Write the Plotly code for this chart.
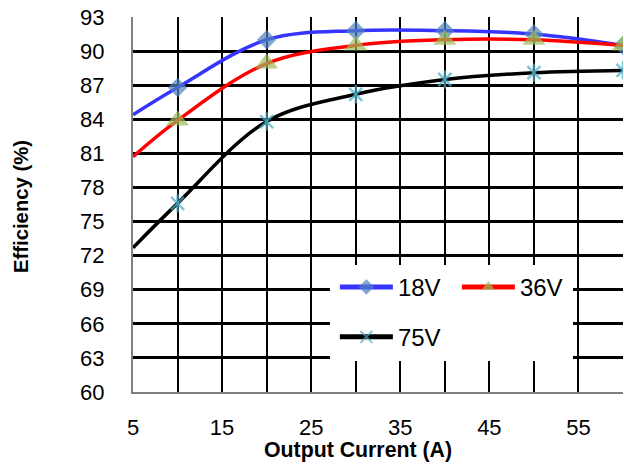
import plotly.graph_objects as go

current = [5, 10, 20, 30, 40, 50, 60]
eff_18v = [84.4, 86.8, 91.0, 91.8, 91.8, 91.5, 90.5]
eff_36v = [80.7, 83.9, 88.9, 90.5, 91.0, 91.0, 90.5]
eff_75v = [72.7, 76.6, 83.8, 86.2, 87.5, 88.1, 88.3]
names = ["18V", "36V", "75V"]
x_ticks = [5, 15, 25, 35, 45, 55]
y_ticks = [60, 63, 66, 69, 72, 75, 78, 81, 84, 87, 90, 93]

TICK_FONT = dict(family="Liberation Sans, Arial", size=22, color="black")
LEG_FONT = dict(family="Liberation Sans, Arial", size=24, color="black")

msize_d = [0] + [15] * (len(current) - 1)
msize_t = [0] + [20] * (len(current) - 1)
msize_star = [0] + [13] * (len(current) - 1)
STAR = "#4BACC6"

fig = go.Figure()
fig.add_trace(go.Scatter(
    x=current, y=eff_18v, name=names[0], mode="lines+markers", legend="legend",
    line=dict(color="#3535FF", width=3.5, shape="spline", smoothing=1),
    marker=dict(symbol="diamond", size=msize_d, color="#4F81BD", line=dict(width=0)),
))
fig.add_trace(go.Scatter(
    x=current, y=eff_36v, name=names[1], mode="lines+markers", legend="legend",
    line=dict(color="#FF0000", width=3.5, shape="spline", smoothing=1),
    marker=dict(symbol="triangle-up", size=msize_t, color="#9BBB59", line=dict(width=0)),
))
fig.add_trace(go.Scatter(
    x=current, y=eff_75v, name=names[2], mode="lines+markers", legend="legend2",
    line=dict(color="#000000", width=3.5, shape="spline", smoothing=1),
    marker=dict(symbol="x-thin-open", size=msize_star, color=STAR, line=dict(color=STAR, width=2.5)),
))
fig.add_trace(go.Scatter(
    x=current, y=eff_75v, name=names[2], mode="markers", showlegend=False,
    marker=dict(symbol="line-ns-open", size=msize_star, color=STAR, line=dict(color=STAR, width=2.5)),
))

leg_common = dict(
    orientation="h", xanchor="left", yanchor="top",
    bgcolor="rgba(0,0,0,0)", font=LEG_FONT,
    itemwidth=53, entrywidth=54, entrywidthmode="pixels", itemsizing="constant",
)

fig.update_layout(
    width=624, height=464,
    margin=dict(l=133, r=1, t=17, b=72, autoexpand=False),
    paper_bgcolor="white", plot_bgcolor="white",
    showlegend=True,
    legend=dict(x=0.412, y=0.339, **leg_common),
    legend2=dict(x=0.412, y=0.206, **leg_common),
    shapes=[dict(type="rect", xref="paper", yref="paper",
                 x0=0.402, x1=0.898, y0=0.0827, y1=0.3387,
                 fillcolor="white", line=dict(width=0), layer="above")],
    annotations=[
        dict(text="<b>Output Current (A)</b>", xref="paper", yref="paper",
             x=0.46, y=-0.155, xanchor="center", yanchor="middle",
             showarrow=False, font=dict(family="Liberation Sans, Arial", size=21.3, color="black")),
        dict(text="<b>Efficiency (%)</b>", xref="paper", yref="paper",
             x=-0.2286, y=0.496, xanchor="center", yanchor="middle", textangle=-90,
             showarrow=False, font=dict(family="Liberation Sans, Arial", size=20.3, color="black")),
    ],
)
fig.update_xaxes(
    range=[5, 60], tickvals=x_ticks, ticktext=[str(v) for v in x_ticks],
    showgrid=True, gridcolor="black", gridwidth=1.5,
    minor=dict(tickvals=[10, 20, 30, 40, 50, 60], showgrid=True, gridcolor="black", gridwidth=1.5),
    showline=True, linecolor="#808080", linewidth=2, automargin=False,
    ticks="", tickfont=TICK_FONT, ticklabelstandoff=15, zeroline=False,
    ticklabeloverflow="allow",
)
fig.update_yaxes(
    range=[60, 93], tickvals=y_ticks, ticktext=[str(v) for v in y_ticks],
    showgrid=True, gridcolor="black", gridwidth=2.5,
    showline=True, linecolor="#808080", linewidth=2, automargin=False,
    ticks="", tickfont=TICK_FONT, ticklabelstandoff=22, zeroline=False,
    ticklabeloverflow="allow",
)

fig.write_html("out.html", config={"displayModeBar": False},
               post_script="document.body.style.margin='0';")
